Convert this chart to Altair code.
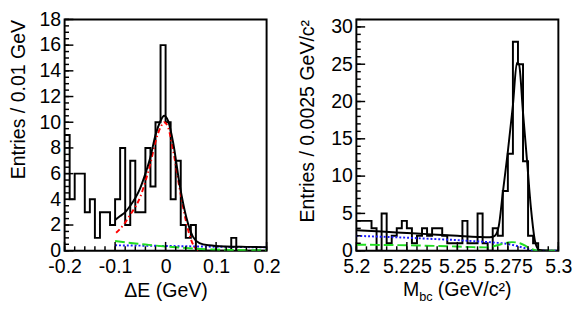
import altair as alt
import pandas as pd

FONT = "Liberation Sans"
W, H = 207, 237

# ---------------- Left panel: Delta E ----------------
de_start, de_width = -0.2, 0.01
de_counts = [9, 4, 6, 6, 3, 4, 1, 3, 3, 2, 4, 8, 2, 7, 3, 3, 8, 5, 10, 16,
             10, 4, 7, 2, 1, 2, 0, 0, 0, 0, 0, 0, 0, 1, 0, 0, 0, 0, 0, 0]
de_ylabels = [0, 2, 4, 6, 8, 10, 12, 14, 16, 18]
de_yminor = [v / 2 for v in range(0, 37)]
de_xlabels = [-0.2, -0.1, 0, 0.1, 0.2]
de_xminor = [round(-0.2 + 0.02 * i, 2) for i in range(0, 21)]

de_total_x = [-0.1, -0.09, -0.08, -0.07, -0.06, -0.05, -0.04, -0.03, -0.02, -0.01, -0.003,
              0.005, 0.015, 0.028, 0.041, 0.054, 0.067, 0.086, 0.12, 0.16, 0.2]
de_total_y = [2.4, 2.7, 3.0, 3.5, 4.1, 4.9, 6.0, 7.3, 9.0, 10.1, 10.5,
              10.1, 8.4, 5.1, 2.6, 1.1, 0.6, 0.42, 0.33, 0.3, 0.28]
de_sig_x = [-0.098, -0.09, -0.08, -0.07, -0.06, -0.05, -0.04, -0.03, -0.02, -0.01, -0.003,
            0.005, 0.015, 0.028, 0.041, 0.05, 0.057, 0.064]
de_sig_y = [1.4, 1.7, 2.2, 2.8, 3.4, 4.2, 5.4, 6.8, 8.5, 9.6, 10.0,
            9.6, 7.8, 4.8, 2.2, 0.9, 0.3, 0.0]
de_green_x = [-0.1, -0.08, -0.06, -0.04, -0.02, 0, 0.02, 0.04, 0.06, 0.08, 0.1, 0.13, 0.16, 0.2]
de_green_y = [0.75, 0.65, 0.56, 0.48, 0.4, 0.33, 0.27, 0.21, 0.16, 0.12, 0.09, 0.06, 0.04, 0.03]
de_blue_x = [-0.1, 0, 0.1, 0.2]
de_blue_y = [0.42, 0.37, 0.31, 0.26]

# ---------------- Right panel: Mbc ----------------
mb_start, mb_width = 5.2, 0.0025
mb_counts = [4, 4, 4, 3, 0, 5, 1, 2, 3, 4, 3, 1, 2, 3, 2, 3, 3, 2, 1, 1,
             1, 4, 1, 1, 5, 1, 0, 3, 2, 8, 13, 28, 25, 12, 2, 1, 0, 0, 0, 0]
mb_ylabels = [0, 5, 10, 15, 20, 25, 30]
mb_yminor = list(range(0, 32))
mb_xlabels = [5.2, 5.225, 5.25, 5.275, 5.3]
mb_xminor = [round(5.2 + 0.005 * i, 3) for i in range(0, 21)]

mb_total_x = [5.2, 5.21, 5.22, 5.23, 5.24, 5.25, 5.26, 5.266, 5.2685, 5.2705, 5.2725, 5.275,
              5.2775, 5.2795, 5.2805, 5.2825, 5.2845, 5.2865, 5.2885, 5.2905, 5.295]
mb_total_y = [2.75, 2.6, 2.45, 2.3, 2.15, 2.0, 1.85, 1.8, 2.0, 3.3, 7.8, 13.3,
              19.5, 25.2, 25.0, 18.5, 12.0, 5.5, 1.2, 0.1, 0.0]
mb_blue_x = [5.2, 5.21, 5.22, 5.23, 5.24, 5.25, 5.26, 5.27, 5.275, 5.28, 5.284, 5.2875, 5.29, 5.3]
mb_blue_y = [2.0, 1.9, 1.8, 1.68, 1.55, 1.42, 1.25, 1.05, 0.9, 0.6, 0.3, 0.05, 0.0, 0.0]
mb_green_x = [5.2, 5.21, 5.22, 5.23, 5.24, 5.25, 5.258, 5.264, 5.268, 5.272, 5.277, 5.281,
              5.284, 5.2865, 5.289, 5.292, 5.3]
mb_green_y = [0.8, 0.78, 0.75, 0.7, 0.64, 0.56, 0.48, 0.45, 0.6, 0.9, 1.15, 1.0,
              0.6, 0.25, 0.03, 0.0, 0.0]


def step_df(start, width, counts):
    xs = [start + width * i for i in range(len(counts) + 1)]
    ys = list(counts) + [counts[-1]]
    return pd.DataFrame({"x": xs, "y": ys})


def curve_df(xs, ys):
    return pd.DataFrame({"x": xs, "y": ys})


def panel(hist, curves, xdom, ydom, xlabels, xminor, ylabels, yminor, xaxis_title, ytitle, ytitle_x, extra=None):
    ax_common = dict(ticks=False, domain=False, grid=False, labelFont=FONT, labelFontSize=20,
                     titleFont=FONT, titleFontSize=20, titleFontWeight="normal",
                     labelColor="black", titleColor="black", labelExpr="datum.value + ''")
    xaxis_kwargs = dict(values=xlabels, labelPadding=6, labelFlush=False, **ax_common)
    if xaxis_title:
        xaxis_kwargs.update(title=xaxis_title, titleX=W / 2, titleY=46.5, titleAlign="center",
                            titleBaseline="alphabetic")
    else:
        xaxis_kwargs.update(title=None)
    xenc = alt.X("x:Q", scale=alt.Scale(domain=xdom, nice=False, zero=False),
                 axis=alt.Axis(**xaxis_kwargs))
    yenc = alt.Y("y:Q", scale=alt.Scale(domain=ydom, nice=False),
                 axis=alt.Axis(values=ylabels, labelPadding=4, labelFlush=False,
                               title=ytitle, titleAngle=-90, titleX=ytitle_x, titleY=0,
                               titleAlign="right", titleBaseline="middle", **ax_common))

    layers = [alt.Chart(hist).mark_line(interpolate="step-after", color="black", strokeWidth=2, clip=True)
              .encode(x=xenc, y=yenc)]
    for df, color, dash in curves:
        kw = dict(color=color, strokeWidth=2, interpolate="monotone", clip=True)
        if dash:
            kw["strokeDash"] = dash
        layers.append(alt.Chart(df).mark_line(**kw).encode(x=xenc, y=yenc))

    ymaj = pd.DataFrame({"y": ylabels})
    ymin = pd.DataFrame({"y": yminor})
    xmaj = pd.DataFrame({"x": xlabels})
    xmin = pd.DataFrame({"x": xminor})
    layers.append(alt.Chart(ymaj).mark_rule(color="black", strokeWidth=1.5)
                  .encode(y=yenc, x=alt.value(0), x2=alt.value(9)))
    layers.append(alt.Chart(ymin).mark_rule(color="black", strokeWidth=1.5)
                  .encode(y=yenc, x=alt.value(0), x2=alt.value(4.5)))
    layers.append(alt.Chart(xmaj).mark_rule(color="black", strokeWidth=1.5)
                  .encode(x=xenc, y=alt.value(H), y2=alt.value(H - 9)))
    layers.append(alt.Chart(xmin).mark_rule(color="black", strokeWidth=1.5)
                  .encode(x=xenc, y=alt.value(H), y2=alt.value(H - 4.5)))
    if extra:
        layers.extend(extra)
    return alt.layer(*layers).properties(width=W, height=H)


left = panel(
    step_df(de_start, de_width, de_counts),
    [(curve_df(de_blue_x, de_blue_y), "#1a1aff", [2, 2]),
     (curve_df(de_green_x, de_green_y), "#22dd22", [10, 4]),
     (curve_df(de_sig_x, de_sig_y), "#ff0000", [5, 3, 1.5, 3]),
     (curve_df(de_total_x, de_total_y), "black", None)],
    [-0.2, 0.2], [0, 18], de_xlabels, de_xminor, de_ylabels, de_yminor,
    "ΔE (GeV)", "Entries / 0.01 GeV", -47.5)

title_row = pd.DataFrame({"a": [0]})
mb_title = [
    alt.Chart(title_row).mark_text(text="M", font=FONT, fontSize=20, align="left", baseline="alphabetic")
    .encode(x=alt.value(47.8), y=alt.value(H + 46)),
    alt.Chart(title_row).mark_text(text="bc", font=FONT, fontSize=13, align="left", baseline="alphabetic")
    .encode(x=alt.value(64.5), y=alt.value(H + 52)),
    alt.Chart(title_row).mark_text(text="(GeV/c²)", font=FONT, fontSize=20, align="left", baseline="alphabetic")
    .encode(x=alt.value(83.5), y=alt.value(H + 46)),
]

right = panel(
    step_df(mb_start, mb_width, mb_counts),
    [(curve_df(mb_blue_x, mb_blue_y), "#1a1aff", [2, 2]),
     (curve_df(mb_green_x, mb_green_y), "#22dd22", [10, 4]),
     (curve_df(mb_total_x, mb_total_y), "black", None)],
    [5.2, 5.3], [0, 31], mb_xlabels, mb_xminor, mb_ylabels, mb_yminor,
    None, "Entries / 0.0025 GeV/c²", -50, extra=mb_title)

chart = (alt.hconcat(left, right, spacing=15)
         .properties(padding={"left": -1, "top": -3, "right": 0, "bottom": 0}, background="white")
         .configure_view(stroke="black", strokeWidth=2))

chart.save("out.html", embed_options={"renderer": "svg", "actions": False})
